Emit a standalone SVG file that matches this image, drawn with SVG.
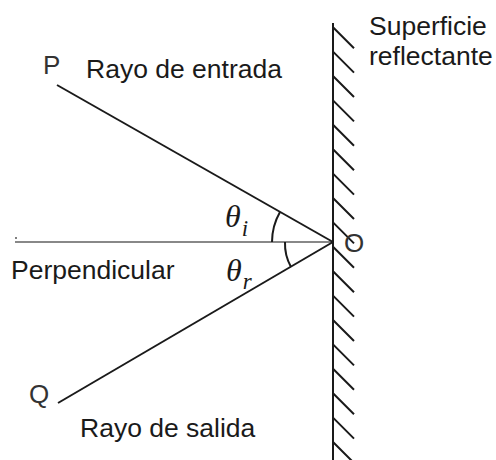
<svg xmlns="http://www.w3.org/2000/svg" width="496" height="460" viewBox="0 0 496 460">
<style>
.lbl{font-family:"Liberation Sans",Arial,sans-serif;font-size:26.5px;fill:#1a1a1a}
.pt{font-family:"Liberation Sans",Arial,sans-serif;font-size:26px;fill:#333}
.math{font-family:"Liberation Serif","Times New Roman",serif;font-style:italic;fill:#1a1a1a}
.ray{stroke:#1a1a1a;stroke-width:2;fill:none}
.hatch{stroke:#1a1a1a;stroke-width:2}
</style>
<rect width="496" height="460" fill="#fff"/>
<g id="mirror">
<line x1="333" y1="23" x2="333" y2="460" class="hatch"/>
<path class="hatch" fill="none" d="M333 27.2 l21 21 M333 51.6 l21 21 M333 76 l21 21 M333 100.4 l21 21 M333 124.8 l21 21 M333 149.2 l21 21 M333 173.6 l21 21 M333 198 l21 21 M333 222.4 l21 21 M333 246.8 l21 21 M333 271.2 l21 21 M333 295.6 l21 21 M333 320 l21 21 M333 344.4 l21 21 M333 368.8 l21 21 M333 393.2 l21 21 M333 417.6 l21 21 M333 442 l21 21"/>
<text class="lbl" x="369" y="35">Superficie</text>
<text class="lbl" x="369" y="65">reflectante</text>
</g>
<g id="connectors">
<line id="normal" x1="15" y1="242" x2="333" y2="242" stroke="#888" stroke-width="2"/>
<circle cx="16" cy="238" r="1" fill="#555"/>
<line id="incident" class="ray" x1="57" y1="85" x2="333" y2="242"/>
<line id="reflected" class="ray" x1="58" y1="403" x2="333" y2="242"/>
<path id="arc-i" class="ray" d="M272 242 A61 61 0 0 1 280 212"/>
<path id="arc-r" class="ray" d="M285 242 A48 48 0 0 0 291 267"/>
</g>
<g id="P"><text class="pt" x="43" y="74">P</text></g>
<g id="Q"><text class="pt" x="29" y="403">Q</text></g>
<g id="O"><text class="pt" x="344" y="252">O</text></g>
<g id="label-in"><text class="lbl" x="86" y="78">Rayo de entrada</text></g>
<g id="label-out"><text class="lbl" x="80" y="437">Rayo de salida</text></g>
<g id="label-perp"><text class="lbl" x="11" y="279">Perpendicular</text></g>
<g id="theta-i"><text class="math" x="225" y="227" font-size="32">θ<tspan font-size="23" dx="1" dy="9">i</tspan></text></g>
<g id="theta-r"><text class="math" x="226" y="281" font-size="32">θ<tspan font-size="23" dx="1" dy="8">r</tspan></text></g>
</svg>
